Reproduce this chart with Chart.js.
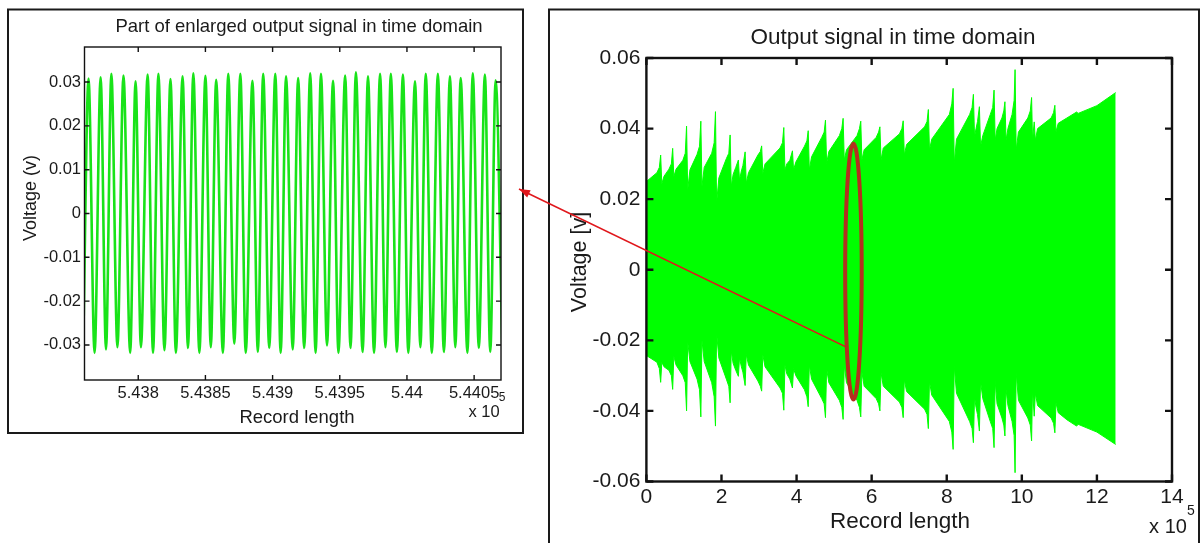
<!DOCTYPE html>
<html>
<head>
<meta charset="utf-8">
<script src="https://cdn.jsdelivr.net/npm/chart.js@4.4.1/dist/chart.umd.min.js"></script>
<style>
html,body{margin:0;padding:0;background:#fff;}
#wrap{position:relative;width:1204px;height:543px;overflow:hidden;background:#fff;}
canvas{position:absolute;left:0;top:0;}
#c-zoom{z-index:1}
#c-full{z-index:2}
</style>
</head>
<body>
<div id="wrap">
  <canvas id="c-zoom" width="540" height="440"></canvas>
  <canvas id="c-full" width="1204" height="543"></canvas>
</div>
<script>
// zoomed window: extremes of the waveform (record index, volts)
const zoomPeakX=[543763,543772,543780,543789,543798,543807,543815,543824,543833,543841,543850,543858,
  543867,543876,543885,543893,543902,543910,543919,543928,543936,543945,543954,543962,
  543971,543980,543988,543997,544006,544014,544023,544032,544040,544049,544058,544066];
const zoomPeakV=[0.0308,0.0311,0.0319,0.0315,0.0302,0.0317,0.0319,0.0307,0.0313,0.0320,0.0314,0.0305,
  0.0319,0.0319,0.0303,0.0319,0.0319,0.0313,0.0309,0.0320,0.0319,0.0303,0.0315,0.0322,
  0.0313,0.0319,0.0319,0.0317,0.0302,0.0319,0.0319,0.0313,0.0309,0.0320,0.0317,0.0304];
const zoomTroughX=[543759,543767.5,543776,543784.5,543794,543802,543811,543819.5,543828,543837,543845.5,543854,
  543863,543871.5,543880,543889,543897.5,543906,543915,543923.5,543932,543940.5,543949,543958,
  543967,543975.5,543984,543992.5,544001,544010,544018.5,544027.5,544036,544045,544053.5,544062,544071];
const zoomTroughV=[-0.0310,-0.0318,-0.0310,-0.0305,-0.0318,-0.0305,-0.0318,-0.0312,-0.0318,-0.0307,-0.0318,-0.0305,
  -0.0318,-0.0297,-0.0318,-0.0316,-0.0307,-0.0318,-0.0310,-0.0307,-0.0318,-0.0301,-0.0318,-0.0307,
  -0.0316,-0.0318,-0.0305,-0.0316,-0.0318,-0.0305,-0.0318,-0.0316,-0.0305,-0.0318,-0.0307,-0.0316,-0.0310];
const zoomXTicks=[543800,543850,543900,543950,544000,544050];
const zoomYTicks=[-0.03,-0.02,-0.01,0,0.01,0.02,0.03];

// whole record: envelope of the signal (record length in 1e5, volts)
const envX=[0,
  0.28,0.345,0.38,0.41,0.47,  0.60,0.665,0.70,0.73,0.79,  0.97,1.035,1.07,1.10,1.16,
  1.35,1.415,1.45,1.48,1.54,  1.74,1.805,1.84,1.87,1.93,  2.13,2.195,2.23,2.26,2.31,
  2.38,2.45,2.48,2.53,  2.57,2.63,2.66,2.72,
  2.97,3.035,3.07,3.10,3.16,  3.56,3.625,3.66,3.69,3.74,
  3.82,3.89,3.92,3.98,
  4.21,4.275,4.31,4.34,4.40,  4.67,4.735,4.77,4.80,4.86,  5.14,5.205,5.24,5.27,5.33,
  5.61,5.675,5.71,5.74,5.80,  6.12,6.185,6.22,6.25,6.31,  6.74,6.805,6.84,6.87,6.93,
  7.41,7.475,7.51,7.54,7.60,  8.07,8.135,8.17,8.20,8.26,  8.61,8.675,8.71,8.74,8.78,
  8.82,8.87,8.90,8.96,
  9.16,9.225,9.26,9.29,9.34,  9.47,9.52,9.55,9.58,9.63,  9.74,9.795,9.82,9.85,9.91,
  10.16,10.225,10.26,10.285,  10.33,10.36,10.42,
  10.78,10.845,10.88,10.91,10.97,
  11.20,11.46,11.50,12.00,12.50];
const envUpper=[0.0250,
  0.0275,0.0290,0.0325,0.0244,0.0265,  0.0285,0.0300,0.0344,0.0264,0.0285,  0.0310,0.0330,0.0407,0.0226,0.0283,
  0.0327,0.0350,0.0421,0.0236,0.0290,  0.0330,0.0360,0.0448,0.0189,0.0260,  0.0315,0.0330,0.0382,0.0236,0.0270,
  0.0290,0.0311,0.0254,0.0280,  0.0295,0.0334,0.0245,0.0275,
  0.0325,0.0335,0.0351,0.0273,0.0300,  0.0345,0.0360,0.0403,0.0283,0.0300,
  0.0310,0.0337,0.0283,0.0305,
  0.0350,0.0365,0.0394,0.0283,0.0320,  0.0375,0.0390,0.0424,0.0301,0.0335,  0.0380,0.0400,0.0429,0.0311,0.0340,
  0.0380,0.0400,0.0421,0.0311,0.0340,  0.0375,0.0390,0.0405,0.0311,0.0345,  0.0385,0.0400,0.0422,0.0325,0.0355,
  0.0405,0.0420,0.0454,0.0339,0.0370,  0.0440,0.0470,0.0514,0.0302,0.0370,  0.0440,0.0460,0.0497,0.0377,0.0400,
  0.0420,0.0462,0.0349,0.0380,
  0.0440,0.0460,0.0509,0.0367,0.0400,  0.0430,0.0450,0.0476,0.0367,0.0400,  0.0440,0.0480,0.0567,0.0339,0.0390,
  0.0430,0.0450,0.0488,0.0367,  0.0419,0.0367,0.0400,
  0.0430,0.0445,0.0466,0.0391,0.0415,
  0.0430,0.0447,0.0443,0.0465,0.0502];
const envLower=[-0.0243,
  -0.0262,-0.0280,-0.0319,-0.0262,-0.0275,  -0.0285,-0.0300,-0.0339,-0.0245,-0.0270,  -0.0300,-0.0320,-0.0400,-0.0203,-0.0260,
  -0.0310,-0.0340,-0.0417,-0.0200,-0.0260,  -0.0320,-0.0360,-0.0443,-0.0179,-0.0250,  -0.0310,-0.0330,-0.0377,-0.0230,-0.0265,
  -0.0285,-0.0302,-0.0250,-0.0275,  -0.0290,-0.0328,-0.0240,-0.0270,
  -0.0315,-0.0330,-0.0344,-0.0240,-0.0275,  -0.0335,-0.0350,-0.0398,-0.0270,-0.0295,
  -0.0310,-0.0335,-0.0280,-0.0300,
  -0.0340,-0.0360,-0.0388,-0.0270,-0.0310,  -0.0365,-0.0380,-0.0419,-0.0280,-0.0320,  -0.0370,-0.0390,-0.0424,-0.0270,-0.0320,
  -0.0370,-0.0390,-0.0417,-0.0290,-0.0330,  -0.0365,-0.0380,-0.0400,-0.0292,-0.0330,  -0.0375,-0.0390,-0.0419,-0.0311,-0.0345,
  -0.0395,-0.0410,-0.0450,-0.0316,-0.0355,  -0.0430,-0.0460,-0.0509,-0.0273,-0.0350,  -0.0430,-0.0450,-0.0490,-0.0360,-0.0390,
  -0.0410,-0.0457,-0.0316,-0.0365,
  -0.0430,-0.0450,-0.0504,-0.0316,-0.0380,  -0.0420,-0.0440,-0.0471,-0.0339,-0.0385,  -0.0430,-0.0470,-0.0575,-0.0292,-0.0370,
  -0.0420,-0.0440,-0.0485,-0.0339,  -0.0415,-0.0350,-0.0385,
  -0.0420,-0.0435,-0.0462,-0.0377,-0.0405,
  -0.0425,-0.0443,-0.0438,-0.0460,-0.0495];
const fullXTicks=[0,2,4,6,8,10,12,14];
const fullYTicks=[-0.06,-0.04,-0.02,0,0.02,0.04,0.06];

const FONT="'Liberation Sans', Arial, Helvetica, sans-serif";
const INK='#1a1a1a';

// frame, matlab style box with inward ticks, free text
const matlabBox={
  id:'matlabBox',
  beforeDraw(chart,args,o){
    const c=chart.ctx;
    c.save();
    c.strokeStyle=INK; c.lineWidth=o.frameWidth;
    c.strokeRect(...o.frame);
    c.restore();
  },
  afterDatasetsDraw(chart,args,o){
    const {ctx:c,chartArea:a,scales:{x,y}}=chart;
    c.save();
    c.strokeStyle='#111'; c.lineWidth=o.axisWidth;
    c.strokeRect(a.left,a.top,a.right-a.left,a.bottom-a.top);
    c.beginPath();
    x.ticks.forEach(t=>{
      const p=x.getPixelForValue(t.value);
      c.moveTo(p,a.bottom); c.lineTo(p,a.bottom-o.tickLen);
      c.moveTo(p,a.top); c.lineTo(p,a.top+o.tickLen);
    });
    y.ticks.forEach(t=>{
      const p=y.getPixelForValue(t.value);
      c.moveTo(a.left,p); c.lineTo(a.left+o.tickLen,p);
      c.moveTo(a.right,p); c.lineTo(a.right-o.tickLen,p);
    });
    c.stroke();
    c.fillStyle=INK; c.textAlign='center'; c.textBaseline='middle';
    o.texts.forEach(t=>{
      c.font=`${t.size}px ${FONT}`;
      if(t.rot){ c.save(); c.translate(t.x,t.y); c.rotate(-Math.PI/2); c.fillText(t.s,0,0); c.restore(); }
      else c.fillText(t.s,t.x,t.y);
    });
    c.restore();
  }
};

// red ellipse on the full record and the arrow to the zoomed panel
const zoomMark={
  id:'zoomMark',
  afterDraw(chart,args,o){
    const {ctx:c,scales:{x,y}}=chart;
    const cx=x.getPixelForValue(o.center[0]), cy=y.getPixelForValue(o.center[1]);
    const rx=Math.abs(x.getPixelForValue(o.center[0]+o.rx)-cx);
    const ry=Math.abs(y.getPixelForValue(o.center[1]+o.ry)-cy);
    c.save();
    c.strokeStyle='#e0171c'; c.lineWidth=1.6;
    const sx=x.getPixelForValue(o.from[0]), sy=y.getPixelForValue(o.from[1]);
    const [ex,ey]=o.to;
    c.beginPath(); c.moveTo(sx,sy); c.lineTo(ex,ey); c.stroke();
    const ang=Math.atan2(ey-sy,ex-sx), L=11, W=4;
    c.fillStyle='#e0171c';
    c.beginPath();
    c.moveTo(ex,ey);
    c.lineTo(ex-L*Math.cos(ang)+W*Math.sin(ang), ey-L*Math.sin(ang)-W*Math.cos(ang));
    c.lineTo(ex-L*Math.cos(ang)-W*Math.sin(ang), ey-L*Math.sin(ang)+W*Math.cos(ang));
    c.closePath(); c.fill();
    c.strokeStyle='#b3301f'; c.lineWidth=4;
    c.beginPath(); c.ellipse(cx,cy,rx,ry,0,0,Math.PI*2); c.stroke();
    c.restore();
  }
};

const fmt2=v=>v===0?'0':parseFloat(v.toFixed(2)).toString();

// left: part of the record
const zoomPts=zoomPeakX.map((x,i)=>({x,y:zoomPeakV[i]}))
  .concat(zoomTroughX.map((x,i)=>({x,y:zoomTroughV[i]})))
  .sort((a,b)=>a.x-b.x);

new Chart(document.getElementById('c-zoom'),{
  type:'line',
  data:{datasets:[{
    data:zoomPts,
    borderColor:'#19e319',
    borderWidth:2.6,
    pointRadius:0,
    cubicInterpolationMode:'monotone',
    fill:false
  }]},
  options:{
    responsive:false, animation:false, devicePixelRatio:1,
    layout:{padding:{top:47,left:0,right:39,bottom:0}},
    plugins:{
      legend:{display:false}, tooltip:{enabled:false},
      matlabBox:{
        frame:[8,9.5,515,423.5], frameWidth:2, axisWidth:1.4, tickLen:5,
        texts:[
          {s:'Part of enlarged output signal in time domain',x:299,y:27,size:18.5},
          {s:'Record length',x:297,y:418,size:18.5},
          {s:'Voltage (v)',x:31,y:198,size:18,rot:true},
          {s:'x 10',x:484,y:412,size:16.5},
          {s:'5',x:502,y:398,size:12}
        ]
      }
    },
    scales:{
      x:{
        type:'linear', min:543760, max:544070,
        afterBuildTicks:s=>{ s.ticks=zoomXTicks.map(v=>({value:v})); },
        afterFit:s=>{ s.height=60; },
        grid:{display:false,drawTicks:false}, border:{display:false},
        ticks:{padding:4,color:INK,font:{family:FONT,size:16.5},maxRotation:0,autoSkip:false,
          callback:v=>parseFloat((v/1e5).toFixed(5)).toString()}
      },
      y:{
        type:'linear', min:-0.038, max:0.038,
        afterBuildTicks:s=>{ s.ticks=zoomYTicks.map(v=>({value:v})); },
        afterFit:s=>{ s.width=84.5; },
        grid:{display:false,drawTicks:false}, border:{display:false},
        ticks:{padding:3.5,color:INK,font:{family:FONT,size:16.5},autoSkip:false,callback:fmt2}
      }
    }
  },
  plugins:[matlabBox]
});

// right: the whole record
const upperPts=envX.map((x,i)=>({x,y:envUpper[i]}));
const lowerPts=envX.map((x,i)=>({x,y:envLower[i]}));

new Chart(document.getElementById('c-full'),{
  type:'line',
  data:{datasets:[
    {data:upperPts,borderColor:'#00ff00',backgroundColor:'#00ff00',borderWidth:1,pointRadius:0,tension:0,fill:'+1'},
    {data:lowerPts,borderColor:'#00ff00',backgroundColor:'#00ff00',borderWidth:1,pointRadius:0,tension:0,fill:false}
  ]},
  options:{
    responsive:false, animation:false, devicePixelRatio:1,
    layout:{padding:{top:58,left:0,right:32,bottom:0}},
    plugins:{
      legend:{display:false}, tooltip:{enabled:false},
      matlabBox:{
        frame:[549,9.5,650,560], frameWidth:2, axisWidth:2.4, tickLen:7,
        texts:[
          {s:'Output signal in time domain',x:893,y:38,size:22.5},
          {s:'Record length',x:900,y:522,size:22.5},
          {s:'Voltage [v]',x:580,y:262,size:21.5,rot:true},
          {s:'x 10',x:1168,y:527,size:20},
          {s:'5',x:1191,y:511,size:14}
        ]
      },
      zoomMark:{center:[5.515,-0.0005],rx:0.22,ry:0.0363,from:[5.34,-0.022],to:[519,189]}
    },
    scales:{
      x:{
        type:'linear', min:0, max:14,
        afterBuildTicks:s=>{ s.ticks=fullXTicks.map(v=>({value:v})); },
        afterFit:s=>{ s.height=61.5; },
        grid:{display:false,drawTicks:false}, border:{display:false},
        ticks:{padding:3,color:INK,font:{family:FONT,size:21},maxRotation:0,autoSkip:false,callback:v=>String(v)}
      },
      y:{
        type:'linear', min:-0.06, max:0.06,
        afterBuildTicks:s=>{ s.ticks=fullYTicks.map(v=>({value:v})); },
        afterFit:s=>{ s.width=646.4; },
        grid:{display:false,drawTicks:false}, border:{display:false},
        ticks:{padding:6,color:INK,font:{family:FONT,size:21},autoSkip:false,callback:fmt2}
      }
    }
  },
  plugins:[matlabBox,zoomMark]
});
</script>
</body>
</html>
